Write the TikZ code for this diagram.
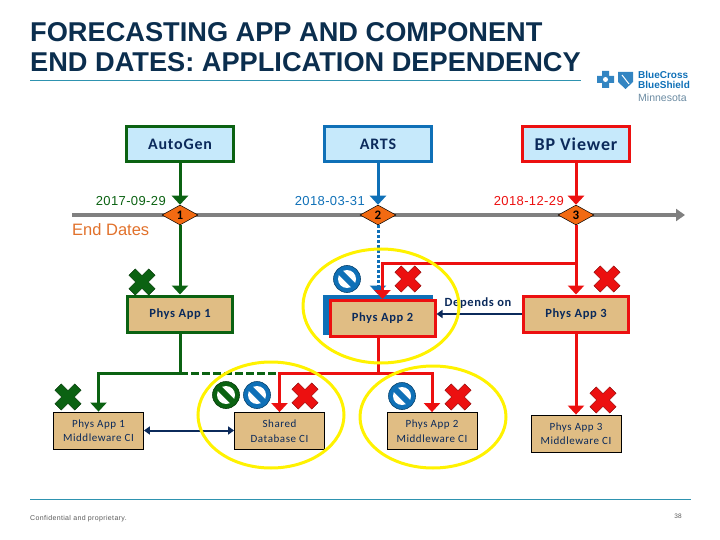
\documentclass[tikz,border=0pt]{standalone}
\usepackage{fontspec}
\setmainfont{Liberation Sans}
\newfontfamily\boxfont[LetterSpace=5]{Carlito}
\newfontfamily\datefont[LetterSpace=3]{Liberation Sans}
\newfontfamily\footfont[LetterSpace=5]{Liberation Sans}
\usetikzlibrary{shapes.geometric, positioning, arrows.meta, calc}
\definecolor{navy}{HTML}{0B2A5B}
\definecolor{titlenavy}{HTML}{0B2E4E}
\definecolor{leaf}{HTML}{0B6212}
\definecolor{ocean}{HTML}{0F70B7}
\definecolor{alert}{HTML}{EC1010}
\definecolor{sky}{HTML}{C6E9FB}
\definecolor{sand}{HTML}{E0BD84}
\definecolor{rust}{HTML}{F26A12}
\definecolor{ember}{HTML}{E1712B}
\definecolor{teal}{HTML}{2E93B0}
\tikzset{
  appbox/.style={rectangle, draw=#1, line width=3pt, fill=sky, minimum width=107pt, minimum height=35pt, text centered, text=navy, font=\boxfont\bfseries\fontsize{16}{18}\selectfont},
  physbox/.style={rectangle, draw=#1, line width=3pt, fill=sand, minimum width=105pt, minimum height=36pt, text centered, text=navy, font=\boxfont\bfseries\fontsize{12.5}{14}\selectfont},
  midbox/.style={rectangle, draw=black, line width=0.8pt, fill=sand, minimum width=90pt, minimum height=37pt, inner sep=1pt, align=center, text=navy, font=\boxfont\fontsize{11}{14.5}\selectfont},
  datemark/.style={diamond, draw=black, line width=0.5pt, fill=rust, minimum width=36pt, minimum height=20pt, inner sep=0pt, font=\boxfont\bfseries\fontsize{13}{13}\selectfont},
  datelabel/.style={text=#1, inner sep=0pt, font=\datefont\fontsize{13}{13}\selectfont},
  link/.style={line width=3pt, draw=#1, -{Triangle[width=16pt,length=9pt]}},
  stem/.style={line width=3pt, draw=#1},
  depend/.style={line width=2pt, draw=navy, -{Triangle[width=8pt,length=6pt]}},
  halo/.style={ellipse, draw=yellow, line width=3pt, inner sep=0pt},
  xmark/.pic={
    \fill[#1, draw=black!40!#1, line width=0.5pt, rotate=45] (-4.5,-14) -- (4.5,-14) -- (4.5,-4.5) -- (14,-4.5) -- (14,4.5) -- (4.5,4.5) -- (4.5,14) -- (-4.5,14) -- (-4.5,4.5) -- (-14,4.5) -- (-14,-4.5) -- (-4.5,-4.5) -- cycle;
  },
  nomark/.pic={
    \fill[#1, draw=black!40!#1, line width=0.6pt] (0,0) circle (13.5);
    \fill[white] (0,0) circle (9);
    \draw[#1, line width=6pt] (-7,-7) -- (7,7);
  }
}
\begin{document}
\begin{tikzpicture}[x=1pt, y=-1pt]
  \useasboundingbox (0,0) rectangle (720,540);

  % --- Titulo y pie ---
  \node (title) [anchor=north west, inner sep=0pt, align=left, text=titlenavy, font=\bfseries\fontsize{27.2}{29.5}\selectfont] at (30,22.5) {FORECASTING APP AND COMPONENT\\END DATES: APPLICATION DEPENDENCY};
  \draw[teal, line width=0.7pt] (30,80) -- (581,80);
  \draw[teal, line width=0.7pt] (30,499) -- (691,499);
  \node (conf) [anchor=west, inner sep=0pt, text=black!65, font=\footfont\fontsize{7}{8}\selectfont] at (30,519) {Confidential and proprietary.};
  \node (pageno) [inner sep=0pt, text=black!65, font=\fontsize{6.5}{7}\selectfont] at (678,516) {38};

  % --- Logo ---
  \fill[ocean!85!white] (597,76) rectangle (614,83) (602,71) rectangle (609,88);
  \fill[white] (605.5,79.5) circle (2.5);
  \fill[ocean!85!white] (618,72) -- (633,72) -- (633,82) -- (625.5,89) -- (618,82) -- cycle;
  \draw[white, line width=1pt] (622,75) -- (629,84);
  \node (logo) [anchor=west, inner sep=0pt, align=left, text=ocean, font=\bfseries\fontsize{10}{10}\selectfont] at (638,80) {BlueCross\\BlueShield};
  \node (state) [anchor=west, inner sep=0pt, text=black!45!ocean!60, font=\fontsize{10.5}{11}\selectfont] at (638,98) {Minnesota};

  % --- Linea de tiempo ---
  \coordinate (tstart) at (72,215);
  \coordinate (tend) at (685,215);
  \draw[black!50, line width=4pt, -{Triangle[width=12pt,length=9pt]}] (tstart) -- (tend);
  \node (enddates) [anchor=west, inner sep=0pt, text=ember, font=\fontsize{16.5}{17}\selectfont] at (72,230) {End Dates};

  % --- Aplicaciones ---
  \node (autogen) [appbox=leaf] at (180,144) {AutoGen};
  \node (arts) [appbox=ocean] at (378,144) {ARTS};
  \node (bpviewer) [appbox=alert, font=\boxfont\bfseries\fontsize{18}{20}\selectfont] at (576,144) {BP Viewer};

  \node (date1) [datemark] at (180,215) {1};
  \node (date2) [datemark] at (378,215) {2};
  \node (date3) [datemark] at (576,215) {3};
  \node (label1) [datelabel=leaf, anchor=east] at (166,201) {2017-09-29};
  \node (label2) [datelabel=ocean, anchor=east] at (365,201) {2018-03-31};
  \node (label3) [datelabel=alert, anchor=east] at (564,201) {2018-12-29};

  % --- Componentes ---
  \node (phys1) [physbox=leaf] at (180,314) {Phys App 1};
  \node (phys2back) [rectangle, draw=ocean, line width=3pt, fill=ocean, minimum width=107pt, minimum height=37pt] at (378,314.5) {};
  \node (phys2) [physbox=alert] at (382.5,318.5) {Phys App 2};
  \node (phys3) [physbox=alert] at (576,314) {Phys App 3};

  \node (mid1) [midbox] at (98.5,430.5) {Phys App 1\\Middleware CI};
  \node (shared) [midbox] at (279.5,431) {Shared\\Database CI};
  \node (mid2) [midbox] at (432,431) {Phys App 2\\Middleware CI};
  \node (mid3) [midbox] at (576,433.5) {Phys App 3\\Middleware CI};

  % --- Conexiones ---
  \draw [link=leaf] (autogen) -- (date1);
  \draw [link=ocean] (arts) -- (date2);
  \draw [link=alert] (bpviewer) -- (date3);
  \draw [link=leaf] (date1) -- (phys1);
  \draw [link=ocean, dashed, dash pattern=on 3pt off 2pt] (date2) -- (date2 |- phys2back.north);
  \draw [link=alert] (date3) -- (phys3);

  \coordinate (redturn) at (576,263);
  \draw [link=alert] (redturn) -| (phys2.north);

  \coordinate (greenbus) at (180,373);
  \coordinate (redbus) at (378,373);
  \draw [stem=leaf] (phys1) -- (greenbus);
  \draw [link=leaf] (greenbus) -| (mid1.north);
  \draw [stem=leaf, dashed, dash pattern=on 8pt off 3pt] (greenbus) -- (greenbus -| shared.north);
  \draw [stem=alert] (redbus |- phys2.south) -- (redbus);
  \draw [link=alert] (redbus) -| (shared.north);
  \draw [link=alert] (redbus) -| (mid2.north);
  \draw [link=alert] (phys3) -- (mid3);

  \draw [depend] (phys3.west) -- (phys3.west -| phys2.east);
  \node (depends) [inner sep=0pt, text=navy, font=\boxfont\bfseries\fontsize{12.5}{13}\selectfont] at (478,303) {Depends on};
  \draw [depend, {Triangle[width=8pt,length=6pt]}-{Triangle[width=8pt,length=6pt]}] (mid1) -- (mid1 -| shared.west);

  % --- Marcas ---
  \pic at (142,282) {xmark=leaf};
  \pic at (408,279) {xmark=alert};
  \pic at (607,279) {xmark=alert};
  \pic at (68,397) {xmark=leaf};
  \pic at (305,396) {xmark=alert};
  \pic at (458,397) {xmark=alert};
  \pic at (603,400) {xmark=alert};
  \pic at (347,279) {nomark=ocean};
  \pic at (226,395) {nomark=leaf};
  \pic at (257,395) {nomark=ocean};
  \pic at (402,396) {nomark=ocean};

  % --- Elipses ---
  \node (halo2) [halo, minimum width=156pt, minimum height=114pt] at (381,306) {};
  \node (haloshared) [halo, minimum width=146pt, minimum height=106pt] at (271,415) {};
  \node (halomid2) [halo, minimum width=146pt, minimum height=102pt] at (433,417) {};
\end{tikzpicture}
\end{document}
